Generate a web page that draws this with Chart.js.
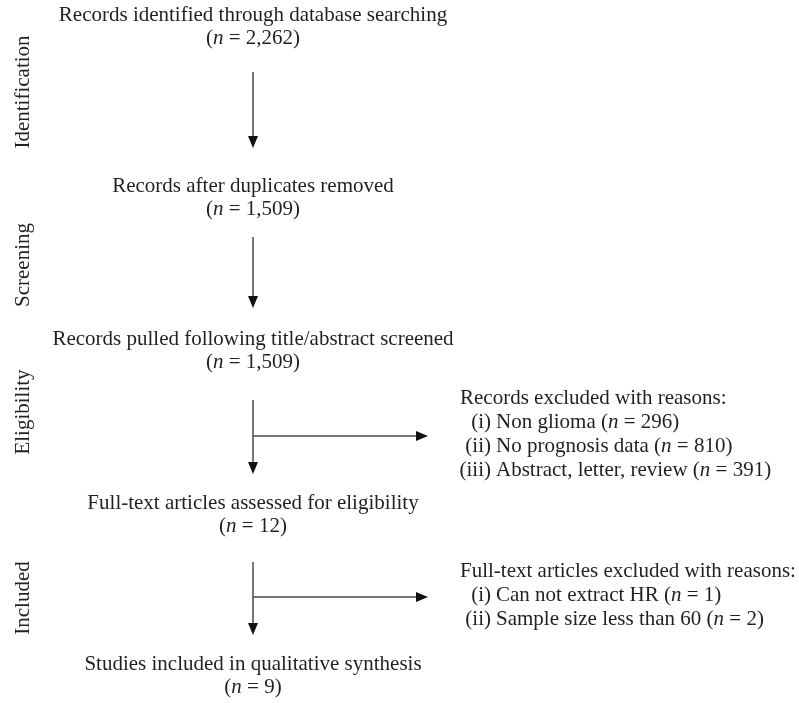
<!DOCTYPE html>
<html>
<head>
<meta charset="utf-8">
<script src="https://cdn.jsdelivr.net/npm/chart.js@4.4.0/dist/chart.umd.min.js"></script>
<style>
  html, body { margin: 0; padding: 0; background: #fff; }
  #wrap { width: 799px; height: 703px; }
</style>
</head>
<body>
<div id="wrap"><canvas id="flow"></canvas></div>
<script>
// stage names down the left side
const stages = ["Identification", "Screening", "Eligibility", "Included"];
// main column boxes
const boxLabels = [
  "Records identified through database searching",
  "Records after duplicates removed",
  "Records pulled following title/abstract screened",
  "Full-text articles assessed for eligibility",
  "Studies included in qualitative synthesis"
];
const boxCounts = ["2,262", "1,509", "1,509", "12", "9"];
// side exclusion boxes
const exclTitles = ["Records excluded with reasons:", "Full-text articles excluded with reasons:"];
const exclNumerals = [["(i)", "(ii)", "(iii)"], ["(i)", "(ii)"]];
const exclReasons = [
  ["Non glioma", "No prognosis data", "Abstract, letter, review"],
  ["Can not extract HR", "Sample size less than 60"]
];
const exclCounts = [["296", "810", "391"], ["1", "2"]];

// layout in chart units (x: 0..799, y: 0..703 top-down)
const colX = 253;
const boxY = [15, 186, 339, 503, 664];
const lineGap = 23;
const arrows = [[72, 148], [237, 308], [400, 474], [562, 635]];
const branchY = [null, null, 436, 597];
const branchEnd = 428;
const stageX = 23;
const stageY = [92, 265, 412, 598];
const exclX = 460;
const exclY = [398, 571];
const reasonGap = 24.3;
const numeralRight = 491;

const FONT = '"Liberation Serif", "DejaVu Serif", serif';
const SIZE = 21;
const INK = "#231f20";
const LINE = "#4a4a4a";

function drawRich(ctx, parts, x, y, align) {
  let total = 0;
  parts.forEach(p => {
    ctx.font = (p.it ? "italic " : "") + SIZE + "px " + FONT;
    p.w = ctx.measureText(p.t).width;
    total += p.w;
  });
  let cx = align === "center" ? x - total / 2 : x;
  ctx.textAlign = "left";
  parts.forEach(p => {
    ctx.font = (p.it ? "italic " : "") + SIZE + "px " + FONT;
    ctx.fillText(p.t, cx, y);
    cx += p.w;
  });
}

function countParts(c) {
  return [{ t: "(" }, { t: "n", it: true }, { t: " = " + c + ")" }];
}

const flowPlugin = {
  id: "flow",
  afterDraw(chart) {
    const ctx = chart.ctx;
    const sx = v => chart.scales.x.getPixelForValue(v);
    const sy = v => chart.scales.y.getPixelForValue(v);
    ctx.save();
    ctx.fillStyle = INK;
    ctx.textBaseline = "middle";

    boxLabels.forEach((lab, i) => {
      drawRich(ctx, [{ t: lab }], sx(colX), sy(boxY[i]), "center");
      drawRich(ctx, countParts(boxCounts[i]), sx(colX), sy(boxY[i] + lineGap), "center");
    });

    stages.forEach((s, i) => {
      ctx.save();
      ctx.translate(sx(stageX), sy(stageY[i]));
      ctx.rotate(-Math.PI / 2);
      ctx.font = SIZE + "px " + FONT;
      ctx.textAlign = "center";
      ctx.fillText(s, 0, 0);
      ctx.restore();
    });

    exclTitles.forEach((t, i) => {
      drawRich(ctx, [{ t }], sx(exclX), sy(exclY[i]), "left");
      exclReasons[i].forEach((r, j) => {
        const y = sy(exclY[i] + reasonGap * (j + 1));
        ctx.font = SIZE + "px " + FONT;
        ctx.textAlign = "right";
        ctx.fillText(exclNumerals[i][j], sx(numeralRight), y);
        drawRich(ctx, [{ t: r + " (" }, { t: "n", it: true }, { t: " = " + exclCounts[i][j] + ")" }],
          sx(numeralRight + 5), y, "left");
      });
    });

    ctx.strokeStyle = LINE;
    ctx.fillStyle = "#111";
    ctx.lineWidth = 1.5;
    const head = (x, y, dir) => {
      ctx.beginPath();
      if (dir === "down") {
        ctx.moveTo(x, y); ctx.lineTo(x - 5, y - 12); ctx.lineTo(x + 5, y - 12);
      } else {
        ctx.moveTo(x, y); ctx.lineTo(x - 12, y - 5); ctx.lineTo(x - 12, y + 5);
      }
      ctx.closePath();
      ctx.fill();
    };
    arrows.forEach((a, i) => {
      const x = sx(colX);
      ctx.beginPath();
      ctx.moveTo(x, sy(a[0]));
      ctx.lineTo(x, sy(a[1]) - 8);
      ctx.stroke();
      head(x, sy(a[1]), "down");
      if (branchY[i] !== null) {
        const by = sy(branchY[i]);
        ctx.beginPath();
        ctx.moveTo(x, by);
        ctx.lineTo(sx(branchEnd) - 8, by);
        ctx.stroke();
        head(sx(branchEnd), by, "right");
      }
    });
    ctx.restore();
  }
};

new Chart(document.getElementById("flow"), {
  type: "scatter",
  data: { datasets: [{ data: [], pointRadius: 0 }] },
  options: {
    responsive: true,
    maintainAspectRatio: false,
    animation: false,
    layout: { padding: 0 },
    plugins: { legend: { display: false }, tooltip: { enabled: false } },
    scales: {
      x: { type: "linear", min: 0, max: 799, display: false },
      y: { type: "linear", min: 0, max: 703, reverse: true, display: false }
    }
  },
  plugins: [flowPlugin]
});
</script>
</body>
</html>
